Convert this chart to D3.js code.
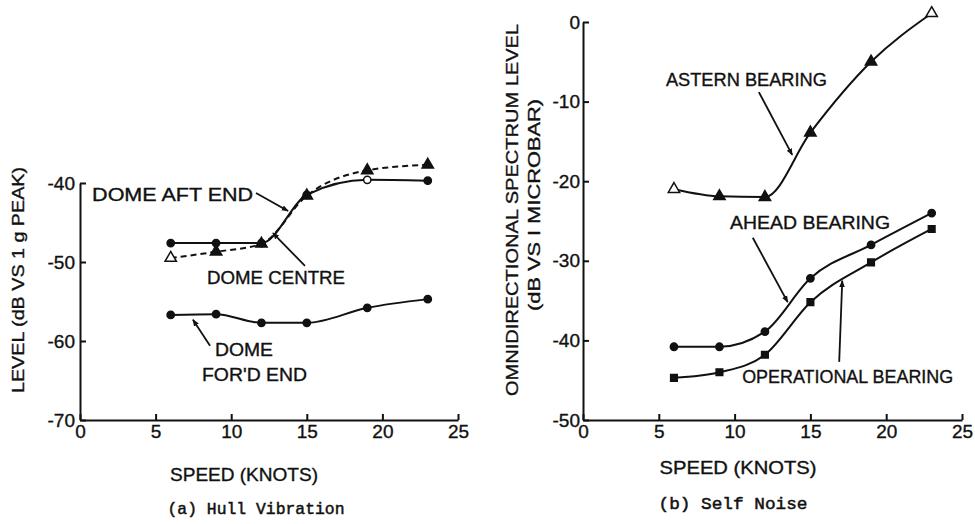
<!DOCTYPE html>
<html><head><meta charset="utf-8">
<script src="https://cdn.jsdelivr.net/npm/d3@7"></script>
<style>
body{margin:0;background:#fff}
svg{display:block}
text{font-family:"Liberation Sans",Arial,sans-serif;fill:#111;stroke:#111;stroke-width:0.35px}
.mono{font-family:"Liberation Mono","DejaVu Sans Mono",monospace;stroke-width:0.5px}
</style>
</head><body>
<svg id="c" width="975" height="524"></svg>
<script>
// ---- data ----
const speedsA = [6, 9, 12, 15, 19, 23];
const domeAft = [-49.5, -48.7, -47.7, -41.6, -38.4, -37.7];
const domeCentre = [-47.6, -47.6, -47.6, -41.5, -39.6, -39.7];
const domeFwd = [-56.7, -56.6, -57.7, -57.7, -55.8, -54.7];
const speedsB = [6, 9, 12, 15, 19, 23];
const astern = [-21.0, -21.9, -22.0, -13.9, -5.0, 1.1];
const ahead = [-40.8, -40.8, -38.9, -32.2, -28.0, -24.0];
const operational = [-44.7, -44.0, -41.8, -35.2, -30.2, -26.0];
const xTicks = [0, 5, 10, 15, 20, 25];
const yTicksA = [-40, -50, -60, -70];
const yTicksB = [0, -10, -20, -30, -40, -50];

const svg = d3.select("#c");
const ink = "#111";

svg.append("defs").append("marker")
  .attr("id","arr").attr("viewBox","0 0 10 10").attr("refX",9).attr("refY",5)
  .attr("markerWidth",7).attr("markerHeight",7).attr("markerUnits","userSpaceOnUse")
  .attr("orient","auto")
  .append("path").attr("d","M0,1 L10,5 L0,9 Z").attr("fill",ink);

function panel(g, x, y, xT, yT, pad){
  const fmt = d => String(d);
  const ax = g.append("g").attr("transform",`translate(0,${y.range()[0]})`)
    .call(d3.axisBottom(x).tickValues(xT).tickFormat(fmt).tickSizeInner(-6).tickSizeOuter(0).tickPadding(5));
  const ay = g.append("g").attr("transform",`translate(${x.range()[0]},0)`)
    .call(d3.axisLeft(y).tickValues(yT).tickFormat(fmt).tickSizeInner(-6).tickSizeOuter(0).tickPadding(pad));
  [ax, ay].forEach(a=>{
    a.selectAll("path,line").attr("stroke",ink).attr("stroke-width",2);
    a.selectAll("text").attr("font-size",19).attr("fill",ink).attr("font-family","'Liberation Sans',Arial,sans-serif");
  });
}

function series(g, x, y, xs, ys, dashed, sym, openIdx){
  const pts = xs.map((d,i)=>[d, ys[i]]);
  g.append("path").datum(pts)
    .attr("d", d3.line().x(d=>x(d[0])).y(d=>y(d[1])).curve(d3.curveMonotoneX))
    .attr("fill","none").attr("stroke",ink).attr("stroke-width",2)
    .attr("stroke-dasharray", dashed ? "6,4" : null);
  g.selectAll(null).data(pts).enter().append("path")
    .attr("transform", d=>`translate(${x(d[0])},${y(d[1])})`)
    .attr("d", d3.symbol().type(sym).size(sym===d3.symbolCircle?42:sym===d3.symbolSquare?44:56))
    .attr("fill", (d,i)=>openIdx.includes(i) ? "#fff" : ink)
    .attr("stroke", ink).attr("stroke-width",1.5);
}

function note(g, x, y, lines, leader){
  lines.forEach(l=>{
    g.append("text").attr("x",x(l.k)).attr("y",y(l.v)).attr("dy","0.35em")
      .attr("font-size",18).attr("textLength",l.w).attr("lengthAdjust","spacingAndGlyphs")
      .text(l.t);
  });
  g.append("line").attr("x1",x(leader[0])).attr("y1",y(leader[1]))
    .attr("x2",x(leader[2])).attr("y2",y(leader[3]))
    .attr("stroke",ink).attr("stroke-width",1.8).attr("marker-end","url(#arr)");
}

// ---- panel (a) ----
const xA = d3.scaleLinear([0,25],[80,458]);
const yA = d3.scaleLinear([-70,-40],[420,183]);
const gA = svg.append("g");
panel(gA, xA, yA, xTicks, yTicksA, 5);
series(gA, xA, yA, speedsA, domeAft, true, d3.symbolTriangle, [0]);
series(gA, xA, yA, speedsA, domeCentre, false, d3.symbolCircle, [4]);
series(gA, xA, yA, speedsA, domeFwd, false, d3.symbolCircle, []);
note(gA, xA, yA, [{t:"DOME  AFT  END", k:0.8, v:-41.5, w:161}], [11.64,-41.27,13.76,-43.54]);
note(gA, xA, yA, [{t:"DOME  CENTRE", k:8.4, v:-52.0, w:138}], [14.88,-50.5,12.76,-46.33]);
note(gA, xA, yA, [{t:"DOME", k:8.93, v:-61.1, w:58},{t:"FOR'D  END", k:8.07, v:-64.3, w:105}], [8.6,-60.6,7.47,-57.3]);
gA.append("text").attr("transform","translate(24,280) rotate(-90)").attr("text-anchor","middle")
  .attr("font-size",17).attr("textLength",226).attr("lengthAdjust","spacingAndGlyphs")
  .text("LEVEL  (dB  VS  1 g  PEAK)");
gA.append("text").attr("x",244).attr("y",481).attr("text-anchor","middle")
  .attr("font-size",18).attr("textLength",148).attr("lengthAdjust","spacingAndGlyphs").text("SPEED  (KNOTS)");
gA.append("text").attr("class","mono").attr("x",256).attr("y",514).attr("text-anchor","middle")
  .attr("font-size",17).attr("textLength",177).attr("lengthAdjust","spacingAndGlyphs").text("(a) Hull Vibration");

// ---- panel (b) ----
const xB = d3.scaleLinear([0,25],[583,962]);
const yB = d3.scaleLinear([-50,0],[420,22]);
const gB = svg.append("g");
panel(gB, xB, yB, xTicks, yTicksB, 3);
series(gB, xB, yB, speedsB, astern, false, d3.symbolTriangle, [0,5]);
series(gB, xB, yB, speedsB, ahead, false, d3.symbolCircle, []);
series(gB, xB, yB, speedsB, operational, false, d3.symbolSquare, []);
note(gB, xB, yB, [{t:"ASTERN  BEARING", k:5.47, v:-7.3, w:161}], [11.6,-8.8,13.8,-16.7]);
note(gB, xB, yB, [{t:"AHEAD  BEARING", k:9.7, v:-25.25, w:160}], [11.2,-27.1,13.5,-35.2]);
note(gB, xB, yB, [{t:"OPERATIONAL  BEARING", k:10.5, v:-44.6, w:211}], [16.9,-42.7,17.1,-32.5]);
gB.append("text").attr("transform","translate(518,210) rotate(-90)").attr("text-anchor","middle")
  .attr("font-size",17).attr("textLength",372).attr("lengthAdjust","spacingAndGlyphs")
  .text("OMNIDIRECTIONAL  SPECTRUM  LEVEL");
gB.append("text").attr("transform","translate(540,205) rotate(-90)").attr("text-anchor","middle")
  .attr("font-size",17).attr("textLength",212).attr("lengthAdjust","spacingAndGlyphs")
  .text("(dB  VS  I  MICROBAR)");
gB.append("text").attr("x",738).attr("y",474).attr("text-anchor","middle")
  .attr("font-size",18).attr("textLength",157).attr("lengthAdjust","spacingAndGlyphs").text("SPEED  (KNOTS)");
gB.append("text").attr("class","mono").attr("x",733).attr("y",509).attr("text-anchor","middle")
  .attr("font-size",17).attr("textLength",149).attr("lengthAdjust","spacingAndGlyphs").text("(b) Self Noise");
</script>
</body></html>
